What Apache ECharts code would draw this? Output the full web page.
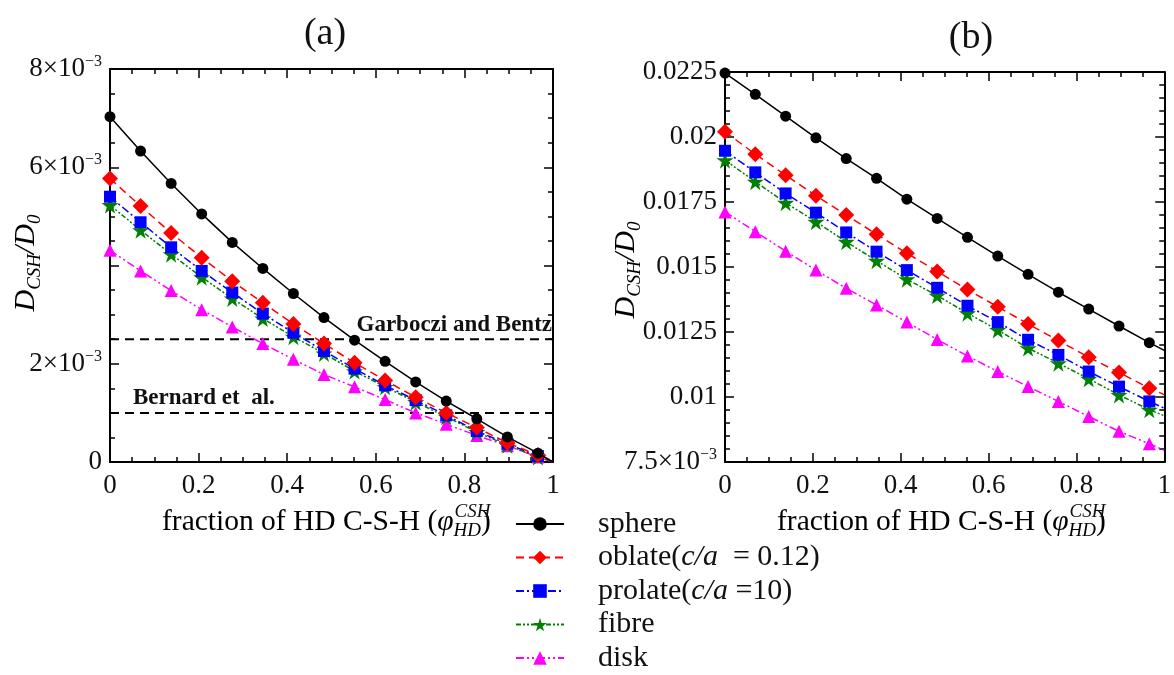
<!DOCTYPE html>
<html><head><meta charset="utf-8">
<script src="https://cdn.jsdelivr.net/npm/echarts@6/dist/echarts.min.js"></script>
<style>html,body{margin:0;padding:0;background:#fff}#c{width:1174px;height:675px}</style>
</head><body><div id="c"></div>
<script>
// x positions of the markers (fraction of HD C-S-H) and line end point
const xMarks = [0, 0.069, 0.138, 0.207, 0.276, 0.345, 0.414, 0.483, 0.552, 0.621, 0.690, 0.759, 0.828, 0.897, 0.966];
const xEnd = 1;

// Panel (a)
const aSphere  = [0.00703,0.00633,0.00567,0.00505,0.00447,0.00394,0.00343,0.00294,0.00248,0.00205,0.00163,0.00124,0.00088,0.00051,0.00018];
const aOblate  = [0.00577,0.00521,0.00466,0.00416,0.00368,0.00324,0.00281,0.00241,0.00202,0.00166,0.00132,0.00100,0.00070,0.00039,0.00014];
const aProlate = [0.00540,0.00488,0.00437,0.00389,0.00345,0.00302,0.00263,0.00226,0.00190,0.00156,0.00126,0.00095,0.00063,0.00037,0.00012];
const aFibre   = [0.00523,0.00472,0.00423,0.00376,0.00333,0.00292,0.00255,0.00221,0.00185,0.00153,0.00122,0.00092,0.00061,0.00034,0.00010];
const aDisk    = [0.00431,0.00389,0.00349,0.00310,0.00275,0.00241,0.00209,0.00178,0.00153,0.00127,0.00100,0.00077,0.00054,0.00033,0.00010];
const aEnd     = [0, 0, 0, 0, 0];

// Panel (b)
const bSphere  = [0.02246,0.02164,0.02080,0.01997,0.01917,0.01841,0.01761,0.01687,0.01614,0.01542,0.01472,0.01403,0.01338,0.01273,0.01209];
const bOblate  = [0.02020,0.01934,0.01853,0.01774,0.01700,0.01626,0.01553,0.01483,0.01413,0.01347,0.01281,0.01217,0.01153,0.01094,0.01034];
const bProlate = [0.01947,0.01864,0.01783,0.01709,0.01633,0.01559,0.01488,0.01420,0.01351,0.01288,0.01220,0.01162,0.01098,0.01040,0.00983];
const bFibre   = [0.01911,0.01828,0.01747,0.01674,0.01597,0.01524,0.01453,0.01390,0.01322,0.01258,0.01188,0.01130,0.01070,0.01008,0.00951];
const bDisk    = [0.01712,0.01636,0.01561,0.01488,0.01418,0.01354,0.01288,0.01221,0.01158,0.01098,0.01040,0.00983,0.00925,0.00868,0.00820];
const bEnd     = [0.01179, 0.01009, 0.00957, 0.00928, 0.00795];

// Reference levels in panel (a)
const refLevels = [0.0025, 0.001];
const refLabels = ['Garboczi and Bentz', 'Bernard et  al.'];

// Series names and tick labels
const seriesNames = ['sphere', 'oblate(c/a  = 0.12)', 'prolate(c/a =10)', 'fibre', 'disk'];
const xTickVals = [0, 0.2, 0.4, 0.6, 0.8, 1];
const xTickLabels = ['0', '0.2', '0.4', '0.6', '0.8', '1'];
const aYTickVals = [0, 0.002, 0.004, 0.006, 0.008];
const aYTickLabels = ['0', '2×10^−3', '', '6×10^−3', '8×10^−3'];
const bYTickVals = [0.0075, 0.01, 0.0125, 0.015, 0.0175, 0.02, 0.0225];
const bYTickLabels = ['7.5×10^−3', '0.01', '0.0125', '0.015', '0.0175', '0.02', '0.0225'];

const FONT = '"Liberation Serif", "Times New Roman", serif';
const chart = echarts.init(document.getElementById('c'));

function lookup(vals, labels, v) {
  for (let i = 0; i < vals.length; i++) if (Math.abs(vals[i] - v) < 1e-9) return labels[i];
  return '';
}
function richTick(s) {
  if (!s) return '';
  const p = s.split('^');
  return p.length > 1 ? '{n|' + p[0] + '}{s|' + p[1] + '}' : '{n|' + s + '}';
}
const tickRich = {
  n: {fontSize: 27, fontFamily: FONT, color: '#111', lineHeight: 30},
  s: {fontSize: 16, fontFamily: FONT, color: '#111', verticalAlign: 'top', lineHeight: 30, padding: [0, 0, 14, 0]}
};

const styles = [
  {color: '#000000', type: 'solid', symbol: 'circle', size: 11},
  {color: '#ff0000', type: [8, 5], symbol: 'diamond', size: 16},
  {color: '#0000ff', type: [8, 3, 2, 3], symbol: 'rect', size: 12},
  {color: '#008000', type: [5, 2, 2, 2, 2, 2], symbol: 'path://M50,0 L61,35 L98,35 L68,57 L79,91 L50,70 L21,91 L32,57 L2,35 L39,35 Z', size: 17},
  {color: '#ff00ff', type: [8, 3, 2, 3, 2, 3], symbol: 'triangle', size: 13}
];

function mkData(vals, end) {
  const d = xMarks.map((x, i) => [x, vals[i]]);
  d.push({value: [xEnd, end], symbol: 'none'});
  return d;
}

function mkXAxis(grid, pos) {
  const main = pos === 'bottom';
  return {
    type: 'value', gridIndex: grid, position: pos, min: 0, max: 1, interval: 0.2,
    axisLine: {show: true, onZero: false, lineStyle: {color: '#000', width: 2}},
    axisTick: {show: true, inside: true, length: 9, lineStyle: {color: '#000', width: 1.5}},
    minorTick: {show: true, splitNumber: 4, length: 5, lineStyle: {color: '#000', width: 1.5}},
    splitLine: {show: false},
    axisLabel: {show: main, margin: 10, formatter: v => lookup(xTickVals, xTickLabels, v),
      fontSize: 27, fontFamily: FONT, color: '#111'}
  };
}
function mkYAxis(grid, pos, min, max, interval, minorSplit, vals, labels) {
  const main = pos === 'left';
  return {
    type: 'value', gridIndex: grid, position: pos, min: min, max: max, interval: interval,
    axisLine: {show: true, onZero: false, lineStyle: {color: '#000', width: 2}},
    axisTick: {show: true, inside: true, length: 9, lineStyle: {color: '#000', width: 1.5}},
    minorTick: {show: true, splitNumber: minorSplit, length: 5, lineStyle: {color: '#000', width: 1.5}},
    splitLine: {show: false},
    axisLabel: {show: main, margin: 8, formatter: v => richTick(lookup(vals, labels, v)), rich: tickRich}
  };
}

const series = [];
// reference dashed levels
refLevels.forEach((v, i) => {
  series.push({
    type: 'line', name: 'ref' + i, xAxisIndex: 0, yAxisIndex: 0, data: [[0, v], [1, v]],
    symbol: 'none', lineStyle: {color: '#000', type: [9, 6], width: 2}, z: 1, animation: false, silent: true
  });
});
const aSets = [aSphere, aOblate, aProlate, aFibre, aDisk];
const bSets = [bSphere, bOblate, bProlate, bFibre, bDisk];
[[aSets, aEnd, 0], [bSets, bEnd, 2]].forEach(([sets, ends, ax]) => {
  sets.forEach((vals, k) => {
    const st = styles[k];
    series.push({
      type: 'line', name: seriesNames[k], xAxisIndex: ax, yAxisIndex: ax,
      data: mkData(vals, ends[k]), symbol: st.symbol, symbolSize: st.size, showAllSymbol: true,
      lineStyle: {color: st.color, width: 1.5, type: st.type},
      itemStyle: {color: st.color}, z: 10 - k, animation: false
    });
  });
});

function legendFmt(name) {
  const parts = name.split('c/a');
  if (parts.length > 1) return '{sp| }{n|' + parts[0] + '}{i|c/a}{n|' + parts[1] + '}';
  return '{sp| }{n|' + name + '}';
}

const yName = '{i|D}{sb|CSH}{i|/D}{sb|0}';
const yNameRich = {
  i: {fontSize: 30, fontStyle: 'italic', fontFamily: FONT, color: '#111', lineHeight: 36},
  sb: {fontSize: 19, fontStyle: 'italic', fontFamily: FONT, color: '#111', verticalAlign: 'bottom', lineHeight: 36, padding: [12, 0, 0, 0]}
};
const XF = 29.5;
const xNameRich = {
  n: {fontSize: XF, fontFamily: FONT, color: '#111', lineHeight: 36},
  i: {fontSize: XF, fontStyle: 'italic', fontFamily: FONT, color: '#111', lineHeight: 36},
  sb: {fontSize: 19, fontStyle: 'italic', fontFamily: FONT, color: '#111', verticalAlign: 'bottom', lineHeight: 36, padding: [12, 0, 0, 0]}
};
const mctx = document.createElement('canvas').getContext('2d');
mctx.font = XF + 'px ' + FONT;
const w1 = mctx.measureText('fraction of HD C-S-H (').width;
mctx.font = 'italic ' + XF + 'px ' + FONT;
const w2 = mctx.measureText('φ').width;
function xNameGraphic(left, id) {
  return [
    {id: id + 'x1', type: 'text', left: left, top: 507, style: {text: '{n|fraction of HD C-S-H (}{i|φ}{sb|HD}{n|)}', rich: xNameRich}},
    {id: id + 'x2', type: 'text', left: left + w1 + w2 + 1, top: 502, style: {text: 'CSH', font: 'italic 19px ' + FONT, fill: '#111'}}
  ];
}

chart.setOption({
  animation: false,
  backgroundColor: '#fff',
  title: [
    {text: '(a)', left: 320, top: 10, textAlign: 'center', textStyle: {fontSize: 38, fontWeight: 'normal', fontFamily: FONT, color: '#111'}},
    {text: '(b)', left: 966, top: 14, textAlign: 'center', textStyle: {fontSize: 38, fontWeight: 'normal', fontFamily: FONT, color: '#111'}}
  ],
  grid: [
    {left: 110, top: 69, width: 443, height: 393},
    {left: 725, top: 72, width: 442, height: 390}
  ],
  xAxis: [mkXAxis(0, 'bottom'), mkXAxis(0, 'top'), mkXAxis(1, 'bottom'), mkXAxis(1, 'top')],
  yAxis: [
    mkYAxis(0, 'left', 0, 0.008, 0.002, 4, aYTickVals, aYTickLabels),
    mkYAxis(0, 'right', 0, 0.008, 0.002, 4, aYTickVals, aYTickLabels),
    mkYAxis(1, 'left', 0.0075, 0.0225, 0.0025, 5, bYTickVals, bYTickLabels),
    mkYAxis(1, 'right', 0.0075, 0.0225, 0.0025, 5, bYTickVals, bYTickLabels)
  ],
  legend: {
    data: seriesNames, orient: 'vertical', left: 515, top: 509, padding: 0,
    itemWidth: 48, itemHeight: 17, itemGap: 3.5,
    formatter: legendFmt, selectedMode: false,
    textStyle: {rich: {
      sp: {width: 29},
      n: {fontSize: 30, fontFamily: FONT, color: '#111', lineHeight: 26},
      i: {fontSize: 30, fontStyle: 'italic', fontFamily: FONT, color: '#111', lineHeight: 26}
    }}
  },
  graphic: [
    {id: 'ya', type: 'text', x: 26, y: 263, rotation: Math.PI / 2,
      style: {text: yName, rich: yNameRich, align: 'center', verticalAlign: 'middle'}},
    {id: 'yb', type: 'text', x: 626, y: 270, rotation: Math.PI / 2,
      style: {text: yName, rich: yNameRich, align: 'center', verticalAlign: 'middle'}}
  ].concat(xNameGraphic(162, 'a')).concat(xNameGraphic(777, 'b')),
  series: series
});

// labels of the reference levels, positioned through the axis scale
const pG = chart.convertToPixel({gridIndex: 0}, [1, refLevels[0]]);
const pB = chart.convertToPixel({gridIndex: 0}, [0, refLevels[1]]);
chart.setOption({
  graphic: [
    {id: 'refG', type: 'text', x: pG[0] - 1, y: pG[1] - 3,
      style: {text: refLabels[0], font: 'bold 23px ' + FONT, fill: '#111', align: 'right', verticalAlign: 'bottom'}},
    {id: 'refB', type: 'text', x: pB[0] + 23, y: pB[1] - 3,
      style: {text: refLabels[1], font: 'bold 23px ' + FONT, fill: '#111', align: 'left', verticalAlign: 'bottom'}}
  ]
});
</script></body></html>
